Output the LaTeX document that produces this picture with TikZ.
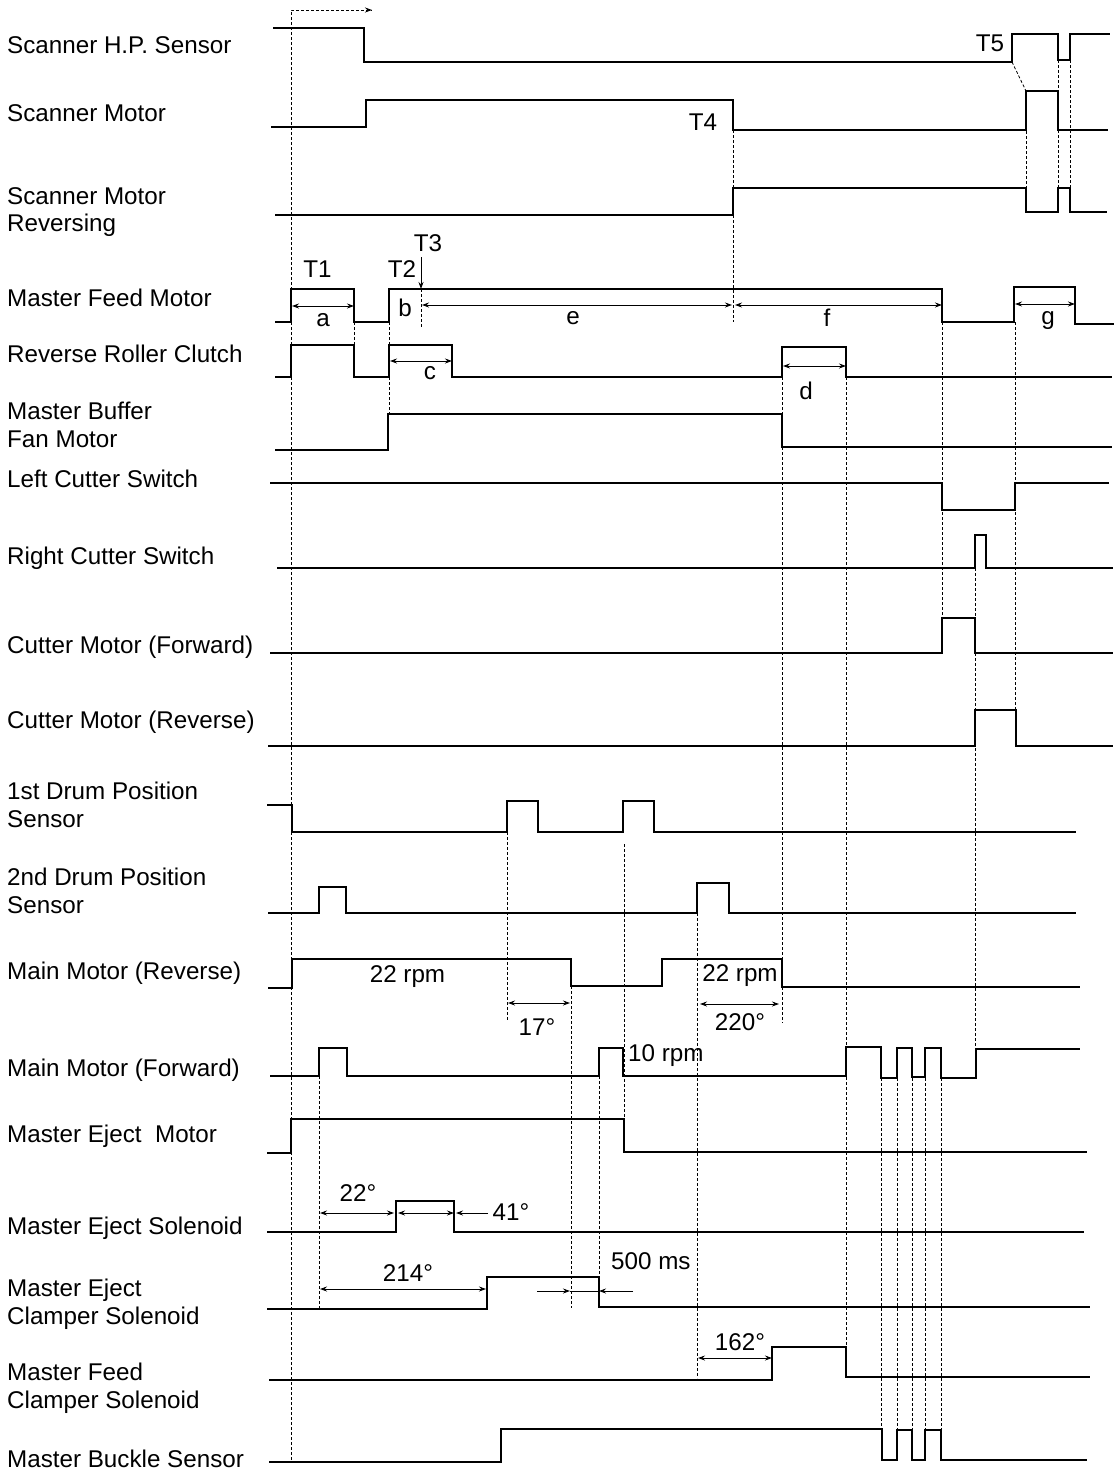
\documentclass[tikz,border=0pt]{standalone}
\usepackage{fontspec}
\setmainfont{Liberation Sans}
\usetikzlibrary{arrows.meta}
\begin{document}
\begin{tikzpicture}[x=1pt,y=-1pt,
  sig/.style={line width=1.4pt,line join=miter},
  guide/.style={line width=0.8pt,dash pattern=on 3pt off 2pt},
  dim/.style={line width=0.9pt,{Stealth[length=7pt,width=5pt]}-{Stealth[length=7pt,width=5pt]}},
  dimr/.style={line width=0.9pt,-{Stealth[length=7pt,width=5pt]}},
  lab/.style={anchor=base west,inner sep=0pt,font=\fontsize{24.2}{28}\selectfont},
  txt/.style={anchor=base,inner sep=0pt,font=\fontsize{24.2}{28}\selectfont}]
\useasboundingbox (0,0) rectangle (1115,1472);
\fill[white] (0,0) rectangle (1115,1472);

% ---- row labels ----
\node[lab] (l1) at (7,53.5) {Scanner H.P. Sensor};
\node[lab] (l2) at (7,121) {Scanner Motor};
\node[lab] (l3a) at (7,204) {Scanner Motor};
\node[lab] (l3b) at (7,231.5) {Reversing};
\node[lab] (l4) at (7,306.5) {Master Feed Motor};
\node[lab] (l5) at (7,362.5) {Reverse Roller Clutch};
\node[lab] (l6a) at (7,419) {Master Buffer};
\node[lab] (l6b) at (7,447) {Fan Motor};
\node[lab] (l7) at (7,487) {Left Cutter Switch};
\node[lab] (l8) at (7,564.5) {Right Cutter Switch};
\node[lab] (l9) at (7,653) {Cutter Motor (Forward)};
\node[lab] (l10) at (7,728.5) {Cutter Motor (Reverse)};
\node[lab] (l11a) at (7,799.5) {1st Drum Position};
\node[lab] (l11b) at (7,827) {Sensor};
\node[lab] (l12a) at (7,885.5) {2nd Drum Position};
\node[lab] (l12b) at (7,913) {Sensor};
\node[lab] (l13) at (7,979) {Main Motor (Reverse)};
\node[lab] (l14) at (7,1076) {Main Motor (Forward)};
\node[lab] (l15) at (7,1142) {Master Eject\ \ Motor};
\node[lab] (l16) at (7,1234.5) {Master Eject Solenoid};
\node[lab] (l17a) at (7,1296.5) {Master Eject};
\node[lab] (l17b) at (7,1324) {Clamper Solenoid};
\node[lab] (l18a) at (7,1380.5) {Master Feed};
\node[lab] (l18b) at (7,1408) {Clamper Solenoid};
\node[lab] (l19) at (7,1467) {Master Buckle Sensor};

% ---- dashed guides ----
\coordinate (g0a) at (291,1460);
\coordinate (g0b) at (291,10);
\coordinate (g0c) at (372,10);
\draw[guide] (g0a) -- (g0b) -- (g0c);
\draw[line width=0.9pt,-{Stealth[length=7pt,width=5pt]}] (366,10) -- (g0c);
\draw[guide] (354,322) -- (354,345);
\draw[guide] (389,322) -- (389,415);
\draw[guide] (421,289) -- (421,328);
\draw[guide] (733,130) -- (733,322);
\draw[guide] (782,377) -- (782,1023);
\draw[guide] (846,377) -- (846,1377);
\draw[guide] (942,322) -- (942,618);
\draw[guide] (1015,322) -- (1015,746);
\draw[guide] (975,568) -- (975,1049);
\draw[guide] (1026,91) -- (1026,212);
\draw[guide] (1058,60) -- (1058,212);
\draw[guide] (1070,60) -- (1070,212);
\draw[guide] (1012,62) -- (1026,91);
\draw[guide] (507,832) -- (507,1020);
\draw[guide] (624,844) -- (624,1118);
\draw[guide] (571,986) -- (571,1308);
\draw[guide] (319,1076) -- (319,1310);
\draw[guide] (599,1076) -- (599,1277);
\draw[guide] (697,913) -- (697,1378);
\foreach \gx in {881,897,912,925,941} \draw[guide] (\gx,1078) -- (\gx,1430);

% ---- signals ----
\draw[sig] (273,28) -| (364,62) -| (1012,34) -| (1058,60) -| (1070,34) -- (1110,34);
\draw[sig] (271,127) -| (366,100) -| (733,130) -| (1026,91) -| (1058,130) -- (1108,130);
\draw[sig] (275,215) -| (733,188) -| (1026,212) -| (1058,188) -| (1070,212) -- (1107,212);
\draw[sig] (275,322) -| (291,289) -| (354,322) -| (389,289) -| (942,322) -| (1014,287) -| (1075,324) -- (1114,324);
\draw[sig] (275,377) -| (291,345) -| (354,377) -| (389,345) -| (452,377) -| (782,347) -| (846,377) -- (1112,377);
\draw[sig] (275,450) -| (388,414) -| (782,447) -- (1112,447);
\draw[sig] (270,483) -| (942,510) -| (1015,483) -- (1109,483);
\draw[sig] (277,568) -| (975,535) -| (986,568) -- (1113,568);
\draw[sig] (270,653) -| (942,618) -| (975,653) -- (1113,653);
\draw[sig] (268,746) -| (975,710) -| (1016,746) -- (1113,746);
\draw[sig] (267,805) -| (292,832) -| (507,801) -| (538,832) -| (623,801) -| (654,832) -- (1076,832);
\draw[sig] (268,913) -| (319,887) -| (346,913) -| (697,883) -| (729,913) -- (1076,913);
\draw[sig] (268,988) -| (292,959) -| (571,986) -| (662,959) -| (782,987) -- (1080,987);
\draw[sig] (270,1076) -| (319,1048) -| (347,1076) -| (599,1048) -| (623,1076) -| (846,1047) -| (881,1078) -| (897,1048) -| (912,1077) -| (925,1048) -| (941,1078) -| (976,1049) -- (1080,1049);
\draw[sig] (267,1153) -| (291,1119) -| (624,1152) -- (1087,1152);
\draw[sig] (267,1232) -| (396,1201) -| (454,1232) -- (1084,1232);
\draw[sig] (267,1309) -| (487,1277) -| (599,1307) -- (1090,1307);
\draw[sig] (269,1380) -| (772,1347) -| (846,1377) -- (1090,1377);
\draw[sig] (269,1462) -| (501,1429) -| (882,1460) -| (897,1430) -| (912,1460) -| (925,1430) -| (941,1460) -- (1087,1460);

% ---- dimensions ----
\draw[dim] (292,306) -- (354,306);
\draw[dim] (422,305) -- (732,305);
\draw[dim] (735,305) -- (942,305);
\draw[dim] (1015,304) -- (1075,304);
\draw[dim] (390,361) -- (452,361);
\draw[dim] (783,366) -- (846,366);
\draw[dimr] (421,257) -- (421,289);
\draw[dim] (508,1003) -- (570,1003);
\draw[dim] (700,1004) -- (779,1004);
\draw[dim] (320,1213) -- (394,1213);
\draw[dim] (398,1213) -- (454,1213);
\draw[dimr] (488,1213) -- (456,1213);
\draw[dim] (320,1289) -- (486,1289);
\draw[line width=0.9pt] (570,1291) -- (599,1291);
\draw[dimr] (537,1291) -- (570,1291);
\draw[dimr] (633,1291) -- (599,1291);
\draw[dim] (698,1358) -- (772,1358);

% ---- texts ----
\node[txt] (tT1) at (317.5,277) {T1};
\node[txt] (tT2) at (402,277) {T2};
\node[txt] (tT3) at (428,251.5) {T3};
\node[txt] (tT4) at (703,130) {T4};
\node[txt] (tT5) at (990,51.5) {T5};
\node[txt] (ta) at (323,326) {a};
\node[txt] (tb) at (405,316) {b};
\node[txt] (te) at (573,324) {e};
\node[txt] (tc) at (430,379) {c};
\node[txt] (tf) at (827,326) {f};
\node[txt] (tg) at (1048,324) {g};
\node[txt] (td) at (806,399) {d};
\node[txt] (r1) at (407.5,982.5) {22 rpm};
\node[txt] (r2) at (740,981.5) {22 rpm};
\node[txt] (d17) at (537,1035.5) {17°};
\node[txt] (d220) at (740,1030) {220°};
\node[lab] (r10) at (628,1061.5) {10 rpm};
\node[txt] (d22) at (358,1201.5) {22°};
\node[txt] (d41) at (511,1220) {41°};
\node[txt] (d214) at (408,1281) {214°};
\node[lab] (ms) at (611,1269) {500 ms};
\node[txt] (d162) at (740,1350) {162°};
\end{tikzpicture}
\end{document}
